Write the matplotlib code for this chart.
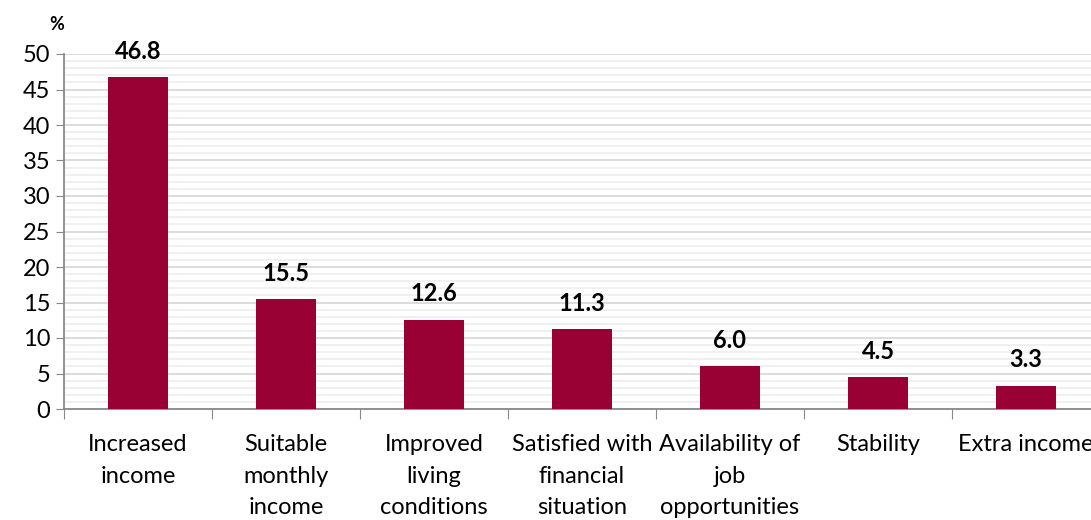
import numpy as np
import matplotlib.pyplot as plt
from matplotlib.ticker import MultipleLocator

categories = ['Increased\nincome', 'Suitable\nmonthly\nincome', 'Improved\nliving\nconditions',
              'Satisfied with\nfinancial\nsituation', 'Availability of\njob\nopportunities',
              'Stability', 'Extra income']
values = [46.8, 15.5, 12.6, 11.3, 6.0, 4.5, 3.3]

plt.rcParams['font.family'] = ['Lato', 'DejaVu Sans']

fig = plt.figure(figsize=(10.91, 5.2), dpi=100)
# plot area runs a little past the right edge of the figure
ax = fig.add_axes([64 / 1091, 111 / 520, 1036 / 1091, 355 / 520])

x = np.arange(len(values))
ax.bar(x, values, width=0.4, color='#990033', zorder=3)

for xi, v in zip(x, values):
    ax.text(xi, v + 2.0, f'{v:.1f}', ha='center', va='bottom', fontsize=17,
            fontweight='bold', color='black')

ax.set_xlim(-0.5, len(values) - 0.5)
ax.set_ylim(0, 50)
ax.yaxis.set_major_locator(MultipleLocator(5))
ax.yaxis.set_minor_locator(MultipleLocator(1))
ax.grid(axis='y', which='major', color='#d9d9d9', linewidth=1.3, zorder=0)
ax.grid(axis='y', which='minor', color='#efefef', linewidth=1.3, zorder=0)
ax.tick_params(axis='y', which='minor', length=0)
ax.tick_params(axis='y', which='major', labelsize=17, length=6, color='#888888', pad=4)

# category ticks sit between bars; labels go on the bar centres
ax.set_xticks(np.arange(-0.5, len(values), 1.0))
ax.set_xticklabels([])
ax.set_xticks(x, minor=True)
ax.set_xticklabels(categories, minor=True, fontsize=17, linespacing=1.62, va='top')
ax.tick_params(axis='x', which='major', length=7, color='#888888')
ax.tick_params(axis='x', which='minor', length=0, pad=18)

for side in ['top', 'right']:
    ax.spines[side].set_visible(False)
for side in ['left', 'bottom']:
    ax.spines[side].set_color('#888888')
    ax.spines[side].set_linewidth(1.3)

fig.text(57 / 1091, 1 - 25 / 520, '%', ha='center', va='center', fontsize=13, fontweight='bold')

fig.savefig('out.png', dpi=100)
